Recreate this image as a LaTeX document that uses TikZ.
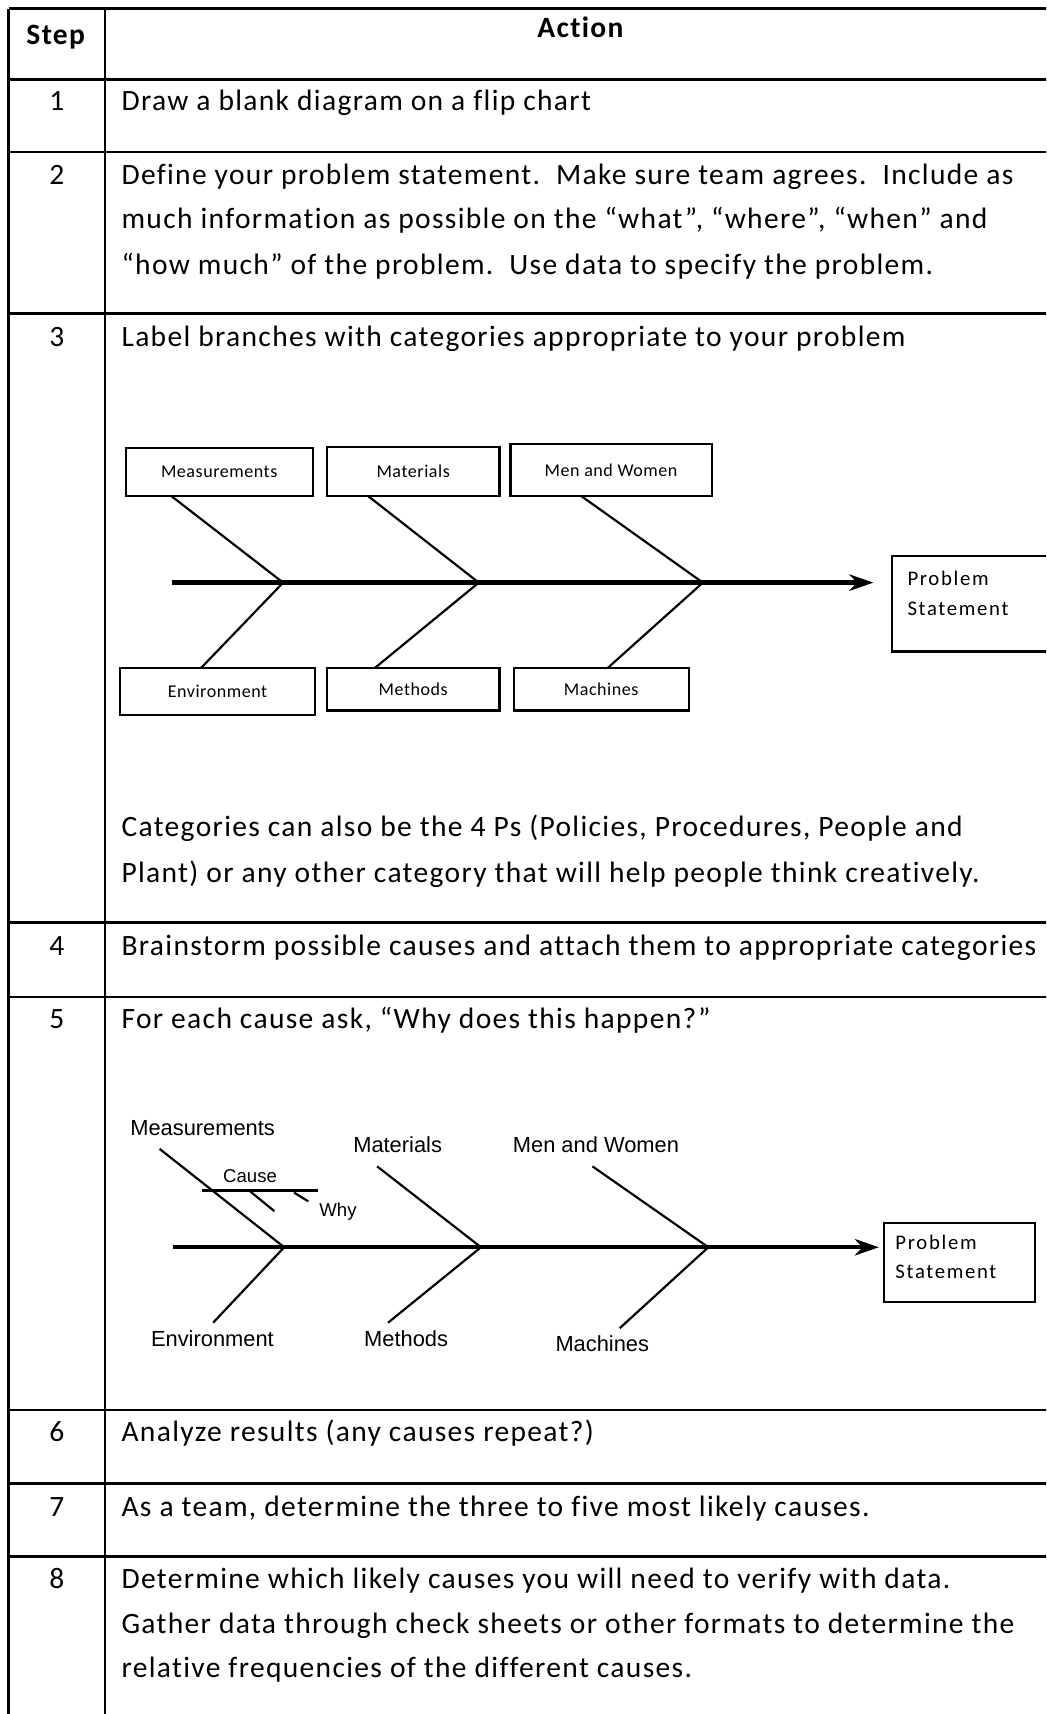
\documentclass[tikz,border=0pt]{standalone}
\usepackage{fontspec}
\setmainfont{Carlito}
\newfontfamily\bodyfont[LetterSpace=4.5,Ligatures=NoCommon]{Carlito}
\newfontfamily\boxfont[LetterSpace=3,Ligatures=NoCommon]{Carlito}
\newfontfamily\psfont[LetterSpace=8,Ligatures=NoCommon]{Carlito}
\newfontfamily\sansfont{Liberation Sans}
\usetikzlibrary{arrows.meta}

\begin{document}
\begin{tikzpicture}[x=1pt,y=-1pt,
  rule/.style={line width=2.5pt},
  body/.style={anchor=base west, inner sep=0pt, font=\bodyfont\fontsize{27}{32}\selectfont},
  num/.style={anchor=base, inner sep=0pt, font=\bodyfont\fontsize{27}{32}\selectfont},
  head/.style={anchor=base, inner sep=0pt, font=\bodyfont\bfseries\fontsize{27}{32}\selectfont},
  catbox/.style={draw, line width=2pt, inner sep=0pt, font=\boxfont\fontsize{16.5}{20}\selectfont},
  psbox/.style={draw, line width=2pt, inner sep=0pt},
  pstext/.style={anchor=base west, inner sep=0pt, align=left, font=\psfont\fontsize{19}{27}\selectfont},
  bone/.style={line width=2pt},
  spine/.style={line width=4pt, -{Stealth[length=22pt,width=15pt,inset=7pt]}},
  armlabel/.style={anchor=base west, inner sep=0pt, font=\sansfont\fontsize{20}{24}\selectfont},
  small/.style={anchor=base west, inner sep=0pt, font=\sansfont\fontsize{17}{20}\selectfont},
]
\useasboundingbox (0,0) rectangle (957,1568);
\clip (0,0) rectangle (957,1568);

% ---------- table rules ----------
\draw[rule] (8,8) -- (970,8);
\foreach \y in {73,139,287,844,912,1290,1357,1424}
  \draw[rule] (8,\y) -- (970,\y);
\draw[rule] (8,8) -- (8,1580);
\draw[rule] (96,8) -- (96,1580);

% ---------- header ----------
\node[head] (hstep) at (51,41) {Step};
\node[head] (hact) at (531,34) {Action};

% ---------- step numbers ----------
\node[num] (n1) at (52,101) {1};
\node[num] (n2) at (52,169) {2};
\node[num] (n3) at (52,317) {3};
\node[num] (n4) at (52,874) {4};
\node[num] (n5) at (52,941) {5};
\node[num] (n6) at (52,1319) {6};
\node[num] (n7) at (52,1387) {7};
\node[num] (n8) at (52,1453) {8};

% ---------- actions ----------
\node[body] (t1) at (111,101) {Draw a blank diagram on a flip chart};
\node[body] (t2a) at (111,169) {Define your problem statement.\ \ Make sure team agrees.\ \ Include as};
\node[body] (t2b) at (111,209) {much information as possible on the “what”, “where”, “when” and};
\node[body] (t2c) at (111,251) {“how much” of the problem.\ \ Use data to specify the problem.};
\node[body] (t3a) at (111,317) {Label branches with categories appropriate to your problem};
\node[body] (t3b) at (111,765) {Categories can also be the 4 Ps (Policies, Procedures, People and};
\node[body] (t3c) at (111,807) {Plant) or any other category that will help people think creatively.};
\node[body] (t4) at (111,874) {Brainstorm possible causes and attach them to appropriate categories};
\node[body] (t5) at (111,941) {For each cause ask, “Why does this happen?”};
\node[body] (t6) at (111,1319) {Analyze results (any causes repeat?)};
\node[body] (t7) at (111,1387) {As a team, determine the three to five most likely causes.};
\node[body] (t8a) at (111,1453) {Determine which likely causes you will need to verify with data.};
\node[body] (t8b) at (111,1494) {Gather data through check sheets or other formats to determine the};
\node[body] (t8c) at (111,1535) {relative frequencies of the different causes.};

% ---------- first fishbone: labelled boxes ----------
\node[catbox, minimum width=171, minimum height=44] (bmeas) at (200.5,432) {Measurements};
\node[catbox, minimum width=158, minimum height=45] (bmat) at (378,431.5) {Materials};
\node[catbox, minimum width=184, minimum height=48] (bmen) at (559,430) {Men and Women};
\node[catbox, minimum width=178, minimum height=43] (benv) at (199,632.5) {Environment};
\node[catbox, minimum width=158, minimum height=39] (bmeth) at (378,630.5) {Methods};
\node[catbox, minimum width=160, minimum height=39] (bmach) at (550,630.5) {Machines};
\node[psbox, minimum width=180, minimum height=87, anchor=north west] (ps1) at (815,508) {};
\node[pstext] (ps1t) at (830,563) {Problem\\Statement};

\coordinate (s1) at (157,533);
\coordinate (tip1) at (799,533);
\coordinate (j11) at (259,533);
\coordinate (j12) at (438,533);
\coordinate (j13) at (643,533);
\coordinate (u11) at (157,454);
\coordinate (u12) at (337,454);
\coordinate (u13) at (532,454);
\coordinate (l11) at (184,611);
\coordinate (l12) at (343,611);
\coordinate (l13) at (556,611);

\draw[spine] (s1) -- (tip1);
\draw[bone] (u11) -- (j11) -- (l11);
\draw[bone] (u12) -- (j12) -- (l12);
\draw[bone] (u13) -- (j13) -- (l13);

% ---------- second fishbone: plain labels ----------
\node[armlabel] (lmeas) at (119,1039) {Measurements};
\node[armlabel] (lmat) at (323,1054) {Materials};
\node[armlabel] (lmen) at (469,1054) {Men and Women};
\node[armlabel] (lenv) at (138,1232) {Environment};
\node[armlabel] (lmeth) at (333,1232) {Methods};
\node[armlabel] (lmach) at (508,1236) {Machines};
\node[psbox, minimum width=138, minimum height=72, anchor=north west] (ps2) at (808,1118) {};
\node[pstext] (ps2t) at (819,1170) {Problem\\Statement};

\coordinate (s2) at (158,1141);
\coordinate (tip2) at (804,1141);
\coordinate (j21) at (260,1141);
\coordinate (j22) at (440,1141);
\coordinate (j23) at (648,1141);
\coordinate (u21) at (146,1051);
\coordinate (u22) at (345,1067);
\coordinate (u23) at (542,1067);
\coordinate (l21) at (195,1210);
\coordinate (l22) at (355,1210);
\coordinate (l23) at (567,1215);

\draw[spine] (s2) -- (tip2);
\draw[bone] (u21) -- (j21) -- (l21);
\draw[bone] (u22) -- (j22) -- (l22);
\draw[bone] (u23) -- (j23) -- (l23);

% sub-cause with its "why" ticks
\coordinate (c1) at (185,1089);
\coordinate (c2) at (291,1089);
\coordinate (w1a) at (229,1090);
\coordinate (w1b) at (251,1108);
\coordinate (w2a) at (269,1091);
\coordinate (w2b) at (282,1099);
\draw[bone] (c1) -- (c2);
\draw[bone] (w1a) -- (w1b);
\draw[bone] (w2a) -- (w2b);
\node[small] (lcause) at (204,1082) {Cause};
\node[small] (lwhy) at (292,1113) {Why};
\end{tikzpicture}
\end{document}
